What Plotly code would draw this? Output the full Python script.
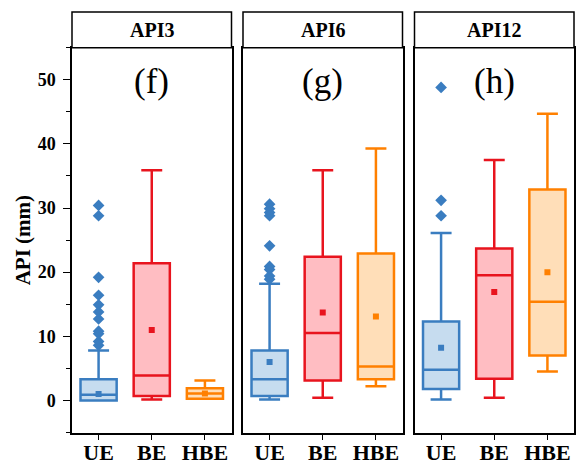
import plotly.graph_objects as go

categories = ["UE", "BE", "HBE"]
panels = ["API3", "API6", "API12"]
panel_letters = ["(f)", "(g)", "(h)"]

# stats per panel: lists indexed by category order UE, BE, HBE
q1 = {"API3": [0.0, 0.7, 0.25], "API6": [0.7, 3.1, 3.3], "API12": [1.8, 3.4, 7.0]}
median = {"API3": [0.9, 3.9, 1.1], "API6": [3.3, 10.5, 5.3], "API12": [4.8, 19.5, 15.4]}
q3 = {"API3": [3.3, 21.4, 1.9], "API6": [7.8, 22.4, 22.9], "API12": [12.3, 23.7, 32.9]}
lower = {"API3": [0.0, 0.15, 0.25], "API6": [0.15, 0.4, 2.2], "API12": [0.15, 0.4, 4.5]}
upper = {"API3": [7.8, 35.9, 3.1], "API6": [18.2, 35.9, 39.3], "API12": [26.1, 37.5, 44.7]}
means = {"API3": [1.0, 11.0, 1.1], "API6": [6.0, 13.7, 13.1], "API12": [8.2, 16.9, 20.0]}
ue_outliers = {
    "API3": [30.4, 28.8, 19.2, 16.4, 14.9, 13.8, 12.7, 10.8, 10.4, 9.2, 8.6],
    "API6": [30.6, 29.9, 29.3, 28.8, 24.1, 20.9, 20.4, 19.4, 18.9],
    "API12": [48.8, 31.2, 28.8],
}

line_colors = ["#3A7DC0", "#E8141E", "#FF8000"]
fill_colors = ["#C6DCEF", "#FFBDC2", "#FFDEB8"]

x_domains = [[72/576, 231.5/576], [243/576, 402.5/576], [414.5/576, 574/576]]
y_domain = [(468 - 432.5) / 468, (468 - 47.7) / 468]
header_top = (468 - 12) / 468

font_family = "Liberation Serif, Times New Roman, serif"

fig = go.Figure()

for pi, p in enumerate(panels):
    xa = "x" if pi == 0 else f"x{pi+1}"
    ya = "y" if pi == 0 else f"y{pi+1}"
    for ci, c in enumerate(categories):
        fig.add_trace(go.Box(
            x=[c], q1=[q1[p][ci]], median=[median[p][ci]], q3=[q3[p][ci]],
            lowerfence=[lower[p][ci]], upperfence=[upper[p][ci]],
            width=0.68, whiskerwidth=0.58,
            line=dict(color=line_colors[ci], width=2.5),
            fillcolor=fill_colors[ci], boxpoints=False,
            xaxis=xa, yaxis=ya, showlegend=False, hoverinfo="skip",
        ))
        fig.add_trace(go.Scatter(
            x=[c], y=[means[p][ci]], mode="markers",
            marker=dict(symbol="square", size=6, color=line_colors[ci]),
            xaxis=xa, yaxis=ya, showlegend=False, hoverinfo="skip",
        ))
    fig.add_trace(go.Scatter(
        x=[categories[0]] * len(ue_outliers[p]), y=ue_outliers[p], mode="markers",
        marker=dict(symbol="diamond", size=9, color=line_colors[0]),
        xaxis=xa, yaxis=ya, showlegend=False, hoverinfo="skip",
    ))

layout = dict(
    width=576, height=468,
    margin=dict(l=0, r=0, t=0, b=0, autoexpand=False),
    paper_bgcolor="white", plot_bgcolor="white",
    font=dict(family=font_family, color="black"),
    boxmode="overlay",
)

for pi in range(3):
    xk = "xaxis" if pi == 0 else f"xaxis{pi+1}"
    yk = "yaxis" if pi == 0 else f"yaxis{pi+1}"
    layout[xk] = dict(
        domain=x_domains[pi], anchor="y" if pi == 0 else f"y{pi+1}",
        type="category", categoryorder="array", categoryarray=categories,
        range=[-0.5, 2.5], automargin=False,
        showline=True, linecolor="black", linewidth=1.5, mirror=True,
        ticks="outside", ticklen=6, tickwidth=1.3, tickcolor="black",
        showgrid=False, zeroline=False, ticklabelstandoff=-7,
        tickfont=dict(family=font_family, size=22, color="black", weight="bold"),
    )
    layout[yk] = dict(
        domain=y_domain, anchor="x" if pi == 0 else f"x{pi+1}",
        range=[-5, 55], automargin=False,
        showline=True, linecolor="black", linewidth=1.5, mirror=True,
        showgrid=False, zeroline=False,
    )
    if pi == 0:
        layout[yk].update(
            tickvals=[0, 10, 20, 30, 40, 50],
            ticks="outside", ticklen=7, tickwidth=1.3, tickcolor="black",
            minor=dict(tickvals=[-5, 5, 15, 25, 35, 45, 55], ticks="outside", ticklen=4, tickcolor="black", tickwidth=1.3),
            ticklabelstandoff=4,
            tickfont=dict(family=font_family, size=18, color="black", weight="bold"),
            title=dict(text="API (mm)", font=dict(family=font_family, size=21, color="black", weight="bold"), standoff=1),
        )
    else:
        layout[yk].update(showticklabels=False, ticks="")

fig.update_layout(**layout)

for pi, p in enumerate(panels):
    fig.add_shape(type="rect", xref="paper", yref="paper",
                  x0=x_domains[pi][0], x1=x_domains[pi][1], y0=y_domain[1], y1=header_top,
                  line=dict(color="black", width=1.5), fillcolor="white")
    fig.add_annotation(xref="paper", yref="paper",
                       x=(x_domains[pi][0] + x_domains[pi][1]) / 2, y=(y_domain[1] + header_top) / 2,
                       text=p, showarrow=False, xanchor="center", yanchor="middle",
                       font=dict(family=font_family, size=20, color="black", weight="bold"))
    xa = "x" if pi == 0 else f"x{pi+1}"
    ya = "y" if pi == 0 else f"y{pi+1}"
    fig.add_annotation(xref=f"{xa} domain", yref=ya, x=0.5, y=49.8,
                       text=panel_letters[pi], showarrow=False, xanchor="center", yanchor="middle",
                       font=dict(family=font_family, size=35, color="black"))

fig.write_html("out.html")
